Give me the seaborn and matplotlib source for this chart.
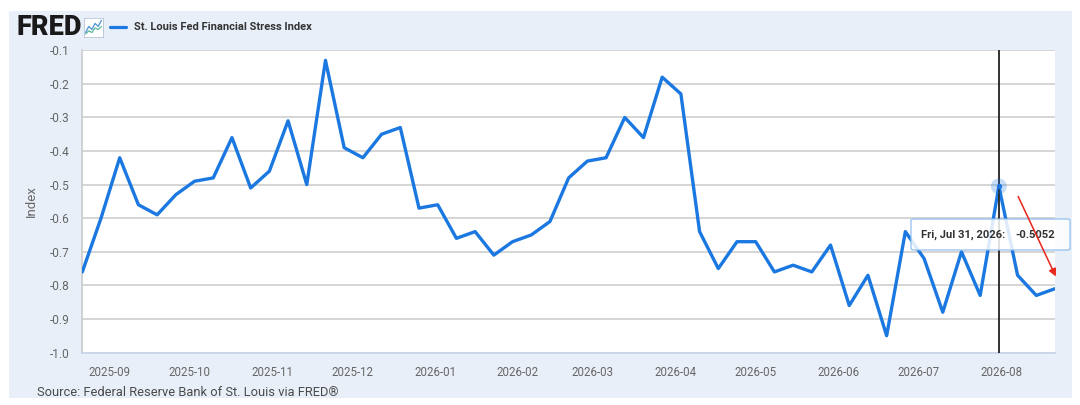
import pandas as pd
import matplotlib
matplotlib.use("Agg")
import matplotlib.pyplot as plt
import matplotlib.dates as mdates
from matplotlib.patches import Rectangle, FancyBboxPatch, FancyArrowPatch
from matplotlib.lines import Line2D
import seaborn as sns

sns.set_style("white")
plt.rcParams["font.family"] = ["Roboto", "DejaVu Sans"]

# -------------------------------------------------------------------
# Data: weekly St. Louis Fed Financial Stress Index (Fridays)
# -------------------------------------------------------------------
start_date = "2025-08-22"
stress_values = [
    -0.76, -0.60, -0.42, -0.56, -0.59, -0.53, -0.49, -0.48, -0.36, -0.51,
    -0.46, -0.31, -0.50, -0.13, -0.39, -0.42, -0.35, -0.33, -0.57, -0.56,
    -0.66, -0.64, -0.71, -0.67, -0.65, -0.61, -0.48, -0.43, -0.42, -0.30,
    -0.36, -0.18, -0.23, -0.64, -0.75, -0.67, -0.67, -0.76, -0.74, -0.76,
    -0.68, -0.86, -0.77, -0.95, -0.64, -0.72, -0.88, -0.70, -0.83, -0.5052,
    -0.77, -0.83, -0.81,
]
dates = pd.date_range(start=start_date, periods=len(stress_values), freq="7D")
df = pd.DataFrame({"date": dates, "value": stress_values})

y_ticks = [-0.1, -0.2, -0.3, -0.4, -0.5, -0.6, -0.7, -0.8, -0.9, -1.0]
highlight_date = pd.Timestamp("2026-07-31")
highlight_value = -0.5052
tooltip_label = "Fri, Jul 31, 2026:"
tooltip_value = "-0.5052"
series_name = "St. Louis Fed Financial Stress Index"
source_text = "Source: Federal Reserve Bank of St. Louis via FRED\u00ae"

# small logo icon lines
icon_x = [0, 1, 2, 3, 4, 5]
icon_blue = [1, 3, 2, 4, 3, 5]
icon_green = [0.5, 1.5, 1.0, 2.5, 2.0, 3.0]

line_color = "#1a78e0"
panel_color = "#e9eff8"
text_gray = "#666666"

# -------------------------------------------------------------------
# Figure
# -------------------------------------------------------------------
fig = plt.figure(figsize=(10.8, 4.05), dpi=100)
fig.patch.set_facecolor("white")
panel = Rectangle((9 / 1080, 1 - 398 / 405), 1063 / 1080, 387 / 405,
                  transform=fig.transFigure, facecolor=panel_color,
                  edgecolor="none", zorder=-10)
fig.patches.append(panel)

ax = fig.add_axes([82.3 / 1080, 1 - 352.5 / 405, (1055 - 82.3) / 1080, 302.2 / 405])
ax.set_facecolor("white")

sns.lineplot(data=df, x="date", y="value", ax=ax, color=line_color,
             linewidth=2.4, zorder=3)

ax.set_xlim(dates[0], dates[-1])
ax.set_ylim(-1.0, -0.1)
ax.set_yticks(y_ticks)
ax.set_yticklabels([f"{v:.1f}" for v in y_ticks])
ax.yaxis.grid(True, color="#d2d2d2", linewidth=1.3)
ax.set_axisbelow(True)

ax.xaxis.set_major_locator(mdates.MonthLocator())
ax.xaxis.set_major_formatter(mdates.DateFormatter("%Y-%m"))
ax.tick_params(axis="x", direction="out", length=9, width=1, color="#ccd6eb",
               labelsize=8.3, labelcolor=text_gray, pad=1)
ax.tick_params(axis="y", length=0, labelsize=8.6, labelcolor=text_gray, pad=9)

for side in ["top", "right"]:
    ax.spines[side].set_visible(False)
ax.spines["left"].set_color("#cfcfcf")
ax.spines["left"].set_linewidth(1.3)
ax.spines["bottom"].set_color("#ccd6eb")
ax.spines["bottom"].set_linewidth(1.3)

ax.set_xlabel("")
ax.set_ylabel("Index", fontsize=9.5, color=text_gray, labelpad=9)

# crosshair + hovered point
ax.axvline(highlight_date, color="#222222", linewidth=1.3, zorder=4)
ax.scatter([highlight_date], [highlight_value], s=130, color=line_color,
           alpha=0.25, zorder=5, edgecolors="none")
ax.scatter([highlight_date], [highlight_value], s=8, color=line_color, zorder=6)

# tooltip box
tip = FancyBboxPatch((911 / 1080, 1 - 250 / 405), 159 / 1080, 31 / 405,
                     boxstyle="round,pad=0,rounding_size=0.003",
                     transform=fig.transFigure, facecolor="white", alpha=0.85,
                     edgecolor="#8cbcef", linewidth=1.0, zorder=10)
fig.add_artist(tip)
fig.text(921 / 1080, 1 - 234.5 / 405, tooltip_label, fontsize=8.1,
         fontweight="bold", color="#333333", va="center", ha="left", zorder=11)
fig.text(1055 / 1080, 1 - 234.5 / 405, tooltip_value, fontsize=8.1,
         fontweight="bold", color="#333333", va="center", ha="right", zorder=11)

# red annotation arrow
fig.add_artist(FancyArrowPatch(
    (1017 / 1080, 1 - 194 / 405), (1057 / 1080, 1 - 279 / 405),
    transform=fig.transFigure, arrowstyle="-|>", mutation_scale=11,
    color="#e8261c", linewidth=1.1, zorder=12))

# header: FRED logo, icon, legend
fig.text(16 / 1080, 1 - 27.5 / 405, "FRED", fontsize=19.5, fontweight="black",
         color="#1a1a1a", va="center", ha="left")
icon_ax = fig.add_axes([84 / 1080, 1 - 37 / 405, 19 / 1080, 19 / 405])
icon_ax.set_facecolor("white")
icon_ax.plot(icon_x, icon_blue, color="#4a90d9", linewidth=0.9)
icon_ax.plot(icon_x, icon_green, color="#5cb89a", linewidth=0.9)
icon_ax.set_xticks([])
icon_ax.set_yticks([])
icon_ax.set_xlim(-0.5, 5.5)
icon_ax.set_ylim(-0.5, 5.8)
for s in icon_ax.spines.values():
    s.set_visible(True)
    s.set_color("#b8c4d4")
    s.set_linewidth(0.6)

fig.add_artist(Line2D([110 / 1080, 126 / 1080], [1 - 27 / 405, 1 - 27 / 405],
                      transform=fig.transFigure, color=line_color,
                      linewidth=2.3))
fig.text(134 / 1080, 1 - 27 / 405, series_name, fontsize=8, fontweight="bold",
         color="#333333", va="center", ha="left")

fig.text(37 / 1080, 1 - 392 / 405, source_text, fontsize=9.3, color="#4a4a4a",
         va="center", ha="left")

fig.savefig("out.png", dpi=100, facecolor=fig.get_facecolor())
